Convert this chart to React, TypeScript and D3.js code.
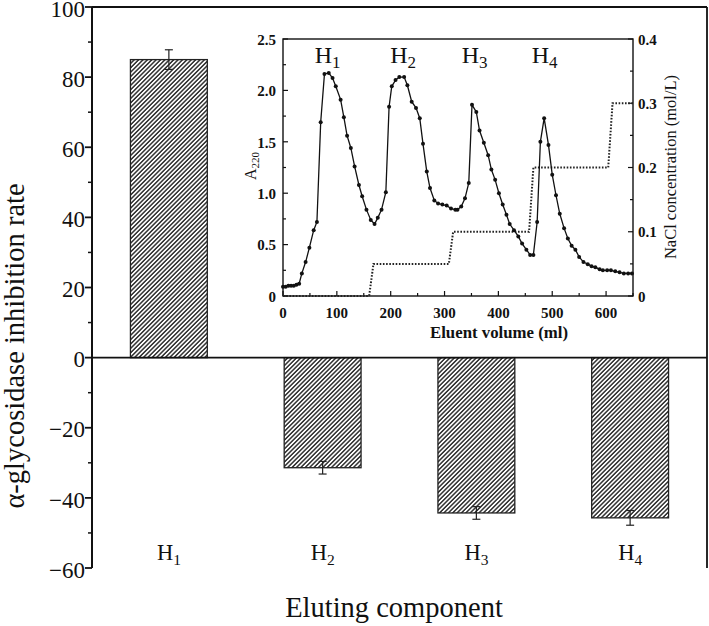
import React from "react";
import * as d3 from "d3";

const categories = ["H", "H", "H", "H"];
const categorySubs = ["1", "2", "3", "4"];
const inhibition = [85, -31.4, -44.3, -45.7];
const inhibitionErr = [2.8, 1.8, 1.8, 2.1];
const mainTicks = [100, 80, 60, 40, 20, 0, -20, -40, -60];

const elutionVolume = [0, 5, 10, 15, 20, 25, 30, 35, 42, 49, 57, 63, 70, 77, 85, 92, 98, 107, 113, 119, 126, 133, 141, 147, 155, 163, 170, 176, 183, 191, 197, 202, 209, 216, 225, 231, 239, 247, 254, 260, 267, 273, 281, 288, 296, 304, 312, 320, 324, 331, 338, 345, 351, 359, 365, 373, 381, 387, 394, 401, 408, 415, 421, 429, 437, 444, 452, 459, 465, 472, 478, 485, 493, 500, 507, 514, 522, 529, 536, 543, 550, 558, 566, 573, 580, 588, 594, 602, 609, 617, 625, 633, 641, 648];
const a220 = [0.09, 0.09, 0.1, 0.1, 0.1, 0.11, 0.12, 0.22, 0.33, 0.47, 0.64, 0.72, 1.69, 2.16, 2.17, 2.12, 2.04, 1.91, 1.74, 1.56, 1.44, 1.26, 1.08, 0.97, 0.84, 0.74, 0.7, 0.76, 0.84, 1.01, 1.84, 2.04, 2.1, 2.13, 2.13, 2.05, 1.89, 1.83, 1.73, 1.48, 1.21, 1.05, 0.93, 0.9, 0.89, 0.88, 0.85, 0.84, 0.84, 0.87, 0.95, 1.1, 1.86, 1.79, 1.61, 1.49, 1.37, 1.23, 1.13, 1.0, 0.89, 0.79, 0.7, 0.64, 0.58, 0.51, 0.45, 0.4, 0.4, 0.72, 1.5, 1.73, 1.47, 1.18, 0.98, 0.8, 0.66, 0.56, 0.49, 0.45, 0.38, 0.33, 0.31, 0.29, 0.28, 0.26, 0.25, 0.25, 0.25, 0.24, 0.23, 0.22, 0.22, 0.22];

const naclVolume = [0, 160, 168, 308, 316, 457, 465, 604, 612, 650];
const naclConc = [0, 0, 0.05, 0.05, 0.1, 0.1, 0.2, 0.2, 0.3, 0.3];

const insetXTicks = [0, 100, 200, 300, 400, 500, 600];
const insetLeftTicks = [0, 0.5, 1.0, 1.5, 2.0, 2.5];
const insetRightTicks = [0, 0.1, 0.2, 0.3, 0.4];
const peakLabels = ["1", "2", "3", "4"];
const peakVolumes = [85, 225, 358, 488];

const FONT = "'Liberation Serif', 'Times New Roman', serif";

export default function App() {
  const W = 709, H = 626;
  const left = 92, right = 707, top = 7, bottom = 568;
  const x = d3.scaleBand<number>().domain([0, 1, 2, 3]).range([left, right]).paddingInner(0.5).paddingOuter(0.25);
  const y = d3.scaleLinear().domain([-60, 100]).range([bottom, top]);
  const minorTicks = d3.range(-50, 100, 20);

  const ix = d3.scaleLinear().domain([0, 650]).range([283, 633]);
  const iyL = d3.scaleLinear().domain([0, 2.5]).range([296, 39]);
  const iyR = d3.scaleLinear().domain([0, 0.4]).range([296, 39]);
  const pts = elutionVolume.map((v, i) => [v, a220[i]] as [number, number]);
  const curve = d3.line<[number, number]>().x(d => ix(d[0])).y(d => iyL(d[1]))(pts) || "";
  const nacl = d3.line<[number, number]>().x(d => ix(d[0])).y(d => iyR(d[1]))(naclVolume.map((v, i) => [v, naclConc[i]] as [number, number])) || "";

  return (
    <svg width={W} height={H} style={{ position: "absolute", left: 0, top: 0, background: "#fff" }} fontFamily={FONT}>
      <defs>
        <pattern id="hatch" patternUnits="userSpaceOnUse" width="3.1" height="10" patternTransform="rotate(45)">
          <line x1="0.8" y1="0" x2="0.8" y2="10" stroke="#1a1a1a" strokeWidth="1.35" />
        </pattern>
      </defs>
      <rect x={0} y={0} width={W} height={H} fill="#fff" />
      {/* bars */}
      {inhibition.map((v, i) => {
        const bx = x(i)!;
        const bw = x.bandwidth();
        const y0 = y(0), y1 = y(v);
        const cx = bx + bw / 2;
        return (
          <g key={i}>
            <rect x={bx} y={Math.min(y0, y1)} width={bw} height={Math.abs(y1 - y0)} fill="url(#hatch)" stroke="#222" strokeWidth={1.3} />
            <line x1={cx} x2={cx} y1={y(v - inhibitionErr[i])} y2={y(v + inhibitionErr[i])} stroke="#222" strokeWidth={1.2} />
            <line x1={cx - 4} x2={cx + 4} y1={y(v - inhibitionErr[i])} y2={y(v - inhibitionErr[i])} stroke="#222" strokeWidth={1.2} />
            <line x1={cx - 4} x2={cx + 4} y1={y(v + inhibitionErr[i])} y2={y(v + inhibitionErr[i])} stroke="#222" strokeWidth={1.2} />
            <text x={cx} y={560} fontSize={22.5} textAnchor="middle" fill="#111">
              {categories[i]}
              <tspan fontSize={15.5} dy={5}>{categorySubs[i]}</tspan>
            </text>
          </g>
        );
      })}
      {/* frame */}
      <line x1={left} x2={right} y1={y(0)} y2={y(0)} stroke="#111" strokeWidth={1.8} />
      <line x1={left} x2={right} y1={top} y2={top} stroke="#111" strokeWidth={1.8} />
      <line x1={right} x2={right} y1={top} y2={bottom} stroke="#111" strokeWidth={1.8} />
      <line x1={left} x2={left} y1={top} y2={bottom} stroke="#111" strokeWidth={2} />
      {mainTicks.map(t => (
        <g key={t}>
          <line x1={left - 7} x2={left} y1={y(t)} y2={y(t)} stroke="#111" strokeWidth={1.8} />
          <text x={85} y={y(t)} dy="0.42em" fontSize={23} textAnchor="end" fill="#111">{d3.format("d")(t)}</text>
        </g>
      ))}
      {minorTicks.map(t => (
        <line key={t} x1={left - 4} x2={left} y1={y(t)} y2={y(t)} stroke="#111" strokeWidth={1.5} />
      ))}
      <text transform="translate(24,346) rotate(-90)" fontSize={28.5} textAnchor="middle" fill="#111">α-glycosidase inhibition rate</text>
      <text x={394} y={617} fontSize={28.5} textAnchor="middle" fill="#111">Eluting component</text>

      {/* inset */}
      <rect x={283} y={39} width={350} height={257} fill="none" stroke="#111" strokeWidth={1.4} />
      {d3.range(0, 651, 50).map(t => (
        <line key={t} x1={ix(t)} x2={ix(t)} y1={296} y2={t % 100 === 0 ? 291 : 293} stroke="#111" strokeWidth={1.2} />
      ))}
      {insetXTicks.map(t => (
        <text key={t} x={ix(t)} y={318} fontSize={15} fontWeight="bold" textAnchor="middle" fill="#111">{t}</text>
      ))}
      {d3.range(0, 2.51, 0.25).map(t => (
        <line key={t} x1={283} x2={t % 0.5 === 0 ? 288 : 286} y1={iyL(t)} y2={iyL(t)} stroke="#111" strokeWidth={1.2} />
      ))}
      {insetLeftTicks.map(t => (
        <text key={t} x={276} y={iyL(t)} dy="0.38em" fontSize={15} fontWeight="bold" textAnchor="end" fill="#111">{t === 0 ? "0" : d3.format(".1f")(t)}</text>
      ))}
      {d3.range(0, 0.401, 0.05).map(t => (
        <line key={t} x1={633} x2={Math.round(t * 100) % 10 === 0 ? 628 : 630} y1={iyR(t)} y2={iyR(t)} stroke="#111" strokeWidth={1.2} />
      ))}
      {insetRightTicks.map(t => (
        <text key={t} x={638} y={iyR(t)} dy="0.38em" fontSize={15} fontWeight="bold" textAnchor="start" fill="#111">{t === 0 ? "0" : d3.format(".1f")(t)}</text>
      ))}
      <path d={nacl} fill="none" stroke="#222" strokeWidth={2} strokeDasharray="1.6,1.6" />
      <path d={curve} fill="none" stroke="#111" strokeWidth={1.3} />
      {pts.map((p, i) => (
        <circle key={i} cx={ix(p[0])} cy={iyL(p[1])} r={2} fill="#111" />
      ))}
      {peakLabels.map((s, i) => (
        <text key={i} x={ix(peakVolumes[i]) - 14} y={63} fontSize={24} fill="#111">
          H<tspan fontSize={17} dy={5}>{s}</tspan>
        </text>
      ))}
      <text transform="translate(256,166) rotate(-90)" fontSize={16} textAnchor="middle" fill="#111">
        A<tspan fontSize={11} dy={3}>220</tspan>
      </text>
      <text transform="translate(676,167) rotate(-90)" fontSize={16.5} textAnchor="middle" fill="#111">NaCl concentration (mol/L)</text>
      <text x={499} y={338} fontSize={16.8} fontWeight="bold" textAnchor="middle" fill="#111">Eluent volume (ml)</text>
    </svg>
  );
}
